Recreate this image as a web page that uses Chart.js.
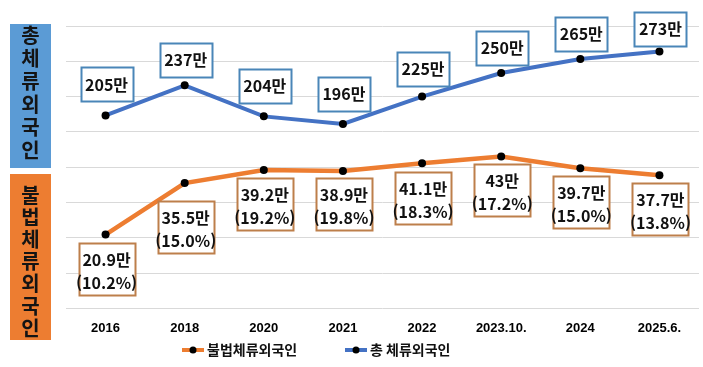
<!DOCTYPE html>
<html lang="ko">
<head>
<meta charset="utf-8">
<script src="https://cdn.jsdelivr.net/npm/chart.js@4"></script>
<style>
  html, body { margin: 0; padding: 0; background: #fff; }
  #wrap { width: 703px; height: 367px; position: relative; }
</style>
</head>
<body>
<div id="wrap"><canvas id="chart"></canvas></div>
<script>
const categories = ['2016', '2018', '2020', '2021', '2022', '2023.10.', '2024', '2025.6.'];
const totalForeign = [205, 237, 204, 196, 225, 250, 265, 273];      // 만 명
const illegalForeign = [20.9, 35.5, 39.2, 38.9, 41.1, 43, 39.7, 37.7]; // 만 명
const illegalShare = [10.2, 15.0, 19.2, 19.8, 18.3, 17.2, 15.0, 13.8]; // %

const KR_FONT = "'Noto Sans CJK KR', 'Noto Sans', sans-serif";
const BLUE = '#4472C4';
const ORANGE = '#ED7D31';

// boxed value labels drawn over each point
const boxLabels = {
  id: 'boxLabels',
  afterDatasetsDraw(chart) {
    const ctx = chart.ctx;
    chart.data.datasets.forEach((ds, i) => {
      const meta = chart.getDatasetMeta(i);
      const box = ds.labelBox;
      meta.data.forEach((pt, j) => {
        const cx = pt.x + 1;
        const cy = pt.y + box.offsets[j];
        const x0 = Math.round(cx - box.w / 2) + 0.5;
        const y0 = Math.round(cy - box.h / 2) + 0.5;
        ctx.save();
        ctx.fillStyle = '#fff';
        ctx.fillRect(x0, y0, box.w, box.h);
        ctx.strokeStyle = box.color;
        ctx.lineWidth = 2;
        ctx.strokeRect(x0, y0, box.w, box.h);
        ctx.fillStyle = '#111';
        ctx.font = 'bold 16px ' + KR_FONT;
        ctx.textAlign = 'center';
        ctx.textBaseline = 'middle';
        const lines = box.text(j);
        lines.forEach((t, k) => {
          ctx.fillText(t, cx, cy + box.lineY[k]);
        });
        ctx.restore();
      });
    });
  }
};

// side panels and legend
const decorations = {
  id: 'decorations',
  afterDraw(chart) {
    const ctx = chart.ctx;
    ctx.save();
    const panels = [
      { color: '#5B9BD5', y: 24, h: 144, text: '총체류외국인', start: 35, step: 23 },
      { color: ORANGE, y: 174, h: 166, text: '불법체류외국인', start: 195, step: 22.2 }
    ];
    panels.forEach(p => {
      ctx.fillStyle = p.color;
      ctx.fillRect(10, p.y, 41, p.h);
      ctx.fillStyle = '#141414';
      ctx.font = 'bold 20px ' + KR_FONT;
      ctx.textAlign = 'center';
      ctx.textBaseline = 'middle';
      [...p.text].forEach((ch, k) => ctx.fillText(ch, 30.5, p.start + k * p.step));
    });

    const items = [
      { color: ORANGE, x: 182, text: '불법체류외국인' },
      { color: BLUE, x: 345, text: '총 체류외국인' }
    ];
    const ly = 350;
    items.forEach(it => {
      ctx.strokeStyle = it.color;
      ctx.lineWidth = 4;
      ctx.beginPath();
      ctx.moveTo(it.x, ly);
      ctx.lineTo(it.x + 22, ly);
      ctx.stroke();
      ctx.fillStyle = '#000';
      ctx.beginPath();
      ctx.arc(it.x + 11, ly, 3.5, 0, Math.PI * 2);
      ctx.fill();
      ctx.fillStyle = '#111';
      ctx.font = 'bold 14px ' + KR_FONT;
      ctx.textAlign = 'left';
      ctx.textBaseline = 'middle';
      ctx.fillText(it.text, it.x + 25, ly);
    });
    ctx.restore();
  }
};

new Chart(document.getElementById('chart'), {
  type: 'line',
  data: {
    labels: categories,
    datasets: [
      {
        label: '불법체류외국인',
        data: illegalForeign,
        yAxisID: 'y',
        borderColor: ORANGE,
        borderWidth: 4.5,
        pointBackgroundColor: '#000',
        pointBorderColor: '#000',
        pointRadius: 4,
        pointBorderWidth: 0,
        tension: 0,
        labelBox: {
          w: 56, h: 52, color: '#BD7F4B',
          offsets: [34, 44, 34, 33, 35, 33, 34, 34],
          lineY: [-9, 14],
          text: j => [illegalForeign[j] + '만', '(' + illegalShare[j].toFixed(1) + '%)']
        }
      },
      {
        label: '총 체류외국인',
        data: totalForeign,
        yAxisID: 'y1',
        borderColor: BLUE,
        borderWidth: 4,
        pointBackgroundColor: '#000',
        pointBorderColor: '#000',
        pointRadius: 4,
        pointBorderWidth: 0,
        tension: 0,
        labelBox: {
          w: 52, h: 34, color: '#4A86B8',
          offsets: [-31, -25, -30, -30, -28, -25, -25, -22],
          lineY: [0],
          text: j => [totalForeign[j] + '만']
        }
      }
    ]
  },
  options: {
    responsive: true,
    maintainAspectRatio: false,
    animation: false,
    layout: { padding: { left: 66, right: 3, top: 26, bottom: 19 } },
    plugins: {
      legend: { display: false },
      tooltip: { enabled: false }
    },
    scales: {
      x: {
        offset: true,
        grid: { display: false, drawTicks: false, offset: true },
        border: { display: false },
        ticks: {
          padding: 12,
          color: '#000',
          font: { family: "'Liberation Sans Narrow', 'Liberation Sans', sans-serif", size: 13, weight: 'bold' }
        }
      },
      y: {
        display: true,
        min: 0,
        max: 80,
        ticks: { display: false, stepSize: 10 },
        grid: { color: '#D9D9D9', lineWidth: 1, drawTicks: false },
        border: { display: false }
      },
      y1: {
        display: false,
        min: 0,
        max: 300,
        grid: { display: false }
      }
    }
  },
  plugins: [boxLabels, decorations]
});
</script>
</body>
</html>
